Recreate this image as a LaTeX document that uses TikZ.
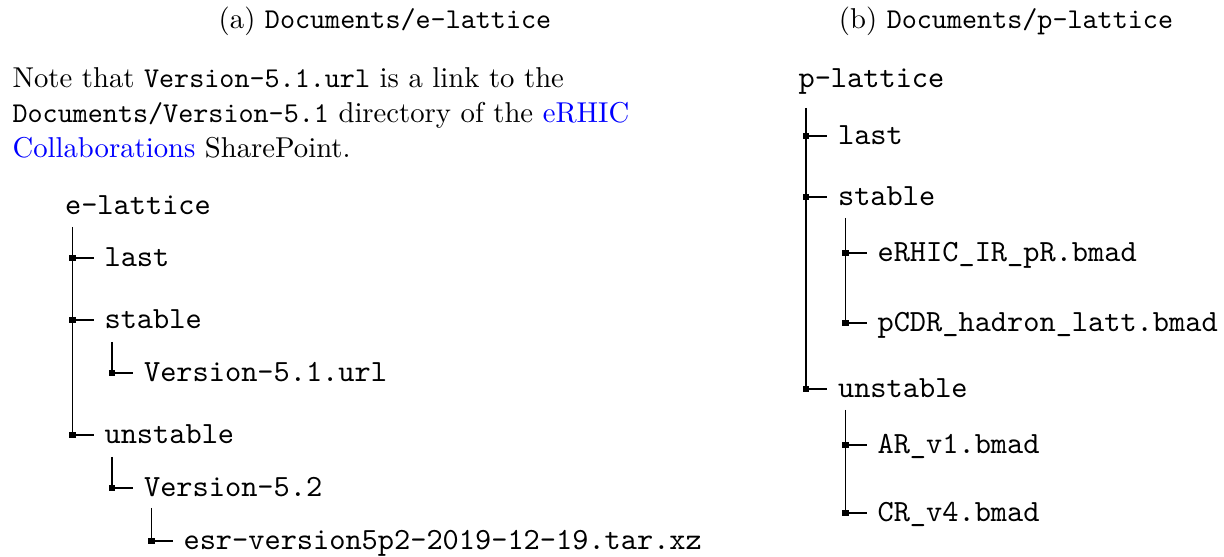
\documentclass[tikz,border=0pt]{standalone}
\usepackage{xcolor}
\usetikzlibrary{calc}
\begin{document}
\begin{tikzpicture}[x=0.34843pt,y=-0.34843pt,
  captext/.style={anchor=base, inner sep=0pt, font=\fontsize{10}{12}\selectfont},
  para/.style={anchor=base west, inner sep=0pt, font=\fontsize{10}{12}\selectfont},
  entry/.style={anchor=base west, inner sep=0pt, font=\fontsize{10.75}{13}\selectfont\ttfamily},
  branch/.style={line width=0.4pt, black},
  knot/.style={rectangle, fill=black, draw=none, minimum size=2.3pt, inner sep=0pt}]
\useasboundingbox (0,0) rectangle (1224,557);

% captions
\node[captext] (capA) at (385,29) {(a) \texttt{Documents/e-lattice}};
\node[captext] (capB) at (1006,29) {(b) \texttt{Documents/p-lattice}};

% note above the left tree
\node[para] (noteA) at (12,88) {Note that \texttt{Version-5.1.url} is a link to the};
\node[para] (noteB) at (12,123) {\texttt{Documents/Version-5.1} directory of the \textcolor{blue}{eRHIC}};
\node[para] (noteC) at (12,158) {\textcolor{blue}{Collaborations} SharePoint.};

% left directory tree
\node[entry] (eroot) at (64.5,215) {e-lattice};
\node[entry] (elast) at (104,267) {last};
\node[entry] (estable) at (104,329) {stable};
\node[entry] (eurl) at (143.5,382) {Version-5.1.url};
\node[entry] (eunstable) at (104,444) {unstable};
\node[entry] (ev52) at (143.5,497) {Version-5.2};
\node[entry] (etar) at (183,550) {esr-version5p2-2019-12-19.tar.xz};

% right directory tree
\node[entry] (proot) at (798,88) {p-lattice};
\node[entry] (plast) at (837.5,145) {last};
\node[entry] (pstable) at (837.5,206) {stable};
\node[entry] (perhic) at (877,262) {eRHIC\_IR\_pR.bmad};
\node[entry] (ppcdr) at (877,332) {pCDR\_hadron\_latt.bmad};
\node[entry] (punstable) at (837.5,398) {unstable};
\node[entry] (par) at (877,454) {AR\_v1.bmad};
\node[entry] (pcr) at (877,522) {CR\_v4.bmad};

% junction and stub end of every entry
\foreach \c in {elast,estable,eurl,eunstable,ev52,etar,plast,pstable,perhic,ppcdr,punstable,par,pcr} {
  \coordinate (j-\c) at ($(\c.base west)+(-31.5,-9)$);
  \coordinate (s-\c) at ($(\c.base west)+(-10.5,-9)$);
}

% trunks: parent -> last child, with the gap below the parent
\foreach \p/\c/\g in {eroot/eunstable/12, estable/eurl/13, eunstable/ev52/13, ev52/etar/11,
                      proot/punstable/20, pstable/ppcdr/12, punstable/pcr/12} {
  \coordinate (t-\p) at ($(\p.base west)+(8,\g)$);
  \draw[branch] (t-\p) -- (t-\p |- j-\c);
}

% stubs and junction squares
\foreach \c in {elast,estable,eurl,eunstable,ev52,etar,plast,pstable,perhic,ppcdr,punstable,par,pcr} {
  \draw[branch] (j-\c) -- (s-\c);
  \node[knot] (k-\c) at (j-\c) {};
}
\end{tikzpicture}
\end{document}
